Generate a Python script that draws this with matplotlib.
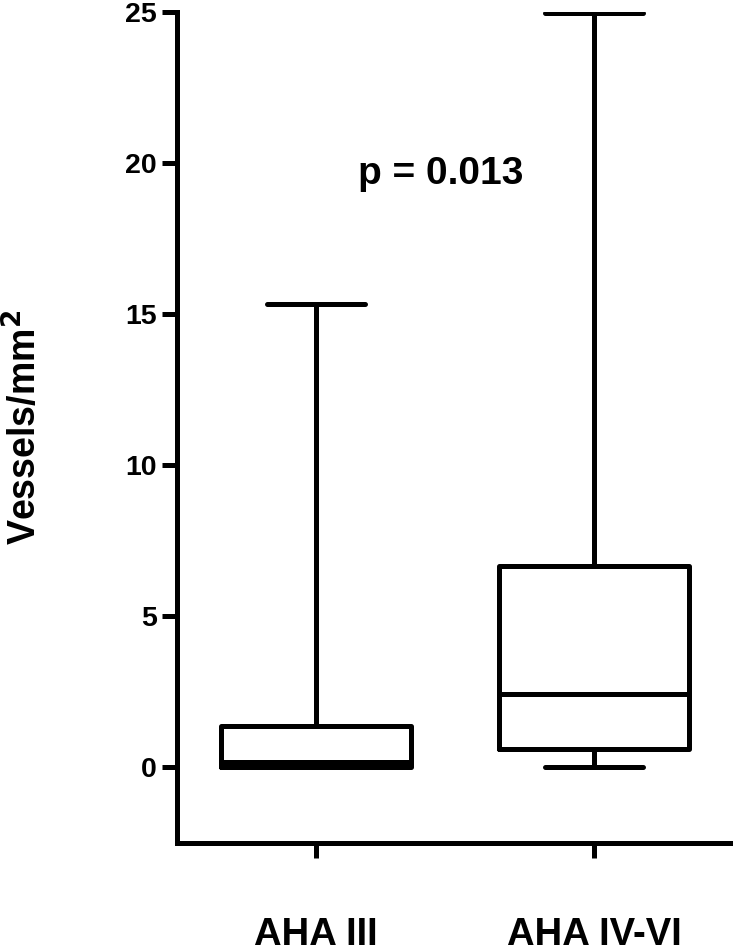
import matplotlib.pyplot as plt
import numpy as np

plt.rcParams['font.family'] = ['Liberation Sans', 'DejaVu Sans']
plt.rcParams['font.weight'] = 'bold'

# Box summary values (Vessels/mm^2)
groups = ['AHA III', 'AHA IV-VI']
whisker_low = [0.0, 0.0]
q1 = [0.0, 0.6]
median = [0.18, 2.42]
q3 = [1.38, 6.68]
whisker_high = [15.33, 24.95]
p_text = 'p = 0.013'

lw = 3.6

fig = plt.figure(figsize=(7.33, 9.51), dpi=100)
ax = fig.add_axes([0.2415, 0.1136, 0.7585, 0.8738])

stats = []
for i in range(len(groups)):
    stats.append(dict(label=groups[i], whislo=whisker_low[i], q1=q1[i],
                      med=median[i], q3=q3[i], whishi=whisker_high[i], fliers=[]))

line_kw = dict(color='black', linewidth=lw, solid_capstyle='round', solid_joinstyle='round')
ax.bxp(stats, positions=[1, 2], widths=0.68, capwidths=0.354, showfliers=False,
       boxprops=line_kw, whiskerprops=line_kw, capprops=line_kw, medianprops=line_kw)

ax.set_xlim(0.5, 2.5)
ax.set_ylim(-2.5, 25)
ax.set_yticks([0, 5, 10, 15, 20, 25])
ax.set_xticks([1, 2])
ax.set_xticklabels(groups)

for side in ['top', 'right']:
    ax.spines[side].set_visible(False)
for side in ['left', 'bottom']:
    ax.spines[side].set_linewidth(lw)
    ax.spines[side].set_capstyle('projecting')

ax.tick_params(axis='y', length=11, width=lw, pad=3.5, labelsize=20.5)
ax.tick_params(axis='x', length=11, width=lw, pad=42, labelsize=27.5)
for lab in ax.get_xticklabels() + ax.get_yticklabels():
    lab.set_fontweight('bold')

ax.set_ylabel('Vessels/mm$^\\mathbf{2}$', fontsize=27, fontweight='bold', labelpad=58)
ax.text(1.45, 19.3, p_text, fontsize=28, fontweight='bold', ha='center', va='baseline')

fig.savefig('out.png', dpi=100)
